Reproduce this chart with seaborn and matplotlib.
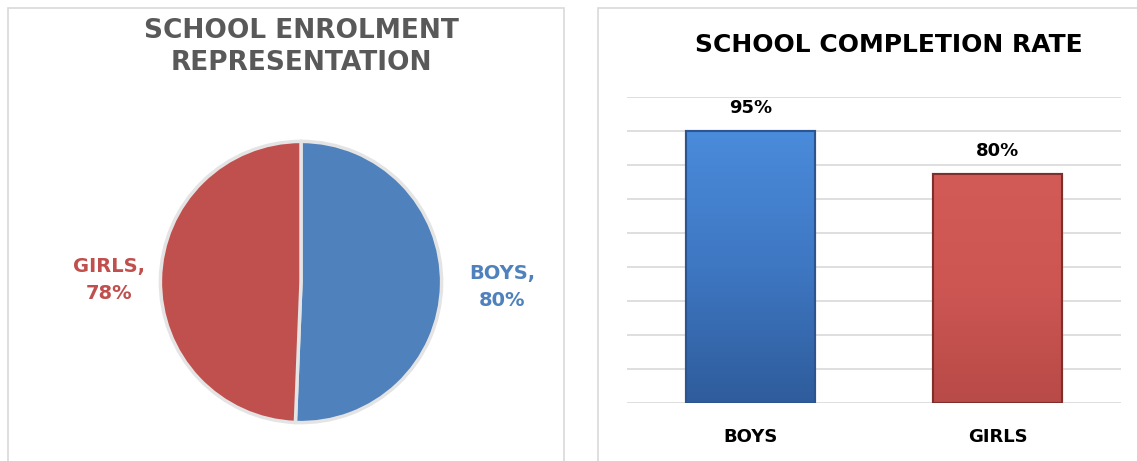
import matplotlib
matplotlib.use("Agg")
import matplotlib.pyplot as plt
import seaborn as sns
import pandas as pd
import numpy as np
from matplotlib.patches import Rectangle
from matplotlib.colors import LinearSegmentedColormap

# ---- data ----
enrol_labels = ["BOYS", "GIRLS"]
enrol_values = [80, 78]
completion_categories = ["BOYS", "GIRLS"]
completion_values = [95, 80]

BLUE = "#4F81BD"
RED = "#C0504D"
BAR_BLUE = "#3F7BC8"
BAR_RED = "#CD5552"

sns.set_theme(style="white")
plt.rcParams['font.family'] = ['DejaVu Sans']

W, H = 1137, 461
fig = plt.figure(figsize=(W / 100, H / 100), dpi=100)
fig.patch.set_facecolor("white")

def fx(px):
    return px / W

def fy(py):
    return 1 - py / H

# panel borders
fig.patches.append(Rectangle((fx(8), fy(470)), fx(564) - fx(8), fy(8) - fy(470),
                             transform=fig.transFigure, fill=False,
                             edgecolor="#D9D9D9", linewidth=1.2))
fig.patches.append(Rectangle((fx(598), fy(470)), fx(1150) - fx(598), fy(8) - fy(470),
                             transform=fig.transFigure, fill=False,
                             edgecolor="#D9D9D9", linewidth=1.2))

# ---- pie ----
cx, cy, r = 301, 282, 142
ax1 = fig.add_axes([fx(cx - r), fy(cy + r), (2 * r) / W, (2 * r) / H])
wedges, _ = ax1.pie(enrol_values, colors=[BLUE, RED], startangle=90, counterclock=False,
                    wedgeprops=dict(edgecolor="#E4E4E4", linewidth=2.5))
ax1.set_xlim(-1.01, 1.01)
ax1.set_ylim(-1.01, 1.01)
ax1.set_aspect("equal")
ax1.axis("off")

fig.text(fx(301), fy(47), "SCHOOL ENROLMENT\nREPRESENTATION", ha="center", va="center",
         fontsize=19, fontweight="bold", color="#595959", linespacing=1.25)
fig.text(fx(109), fy(280), f"{enrol_labels[1]},\n{enrol_values[1]}%", ha="center", va="center",
         fontsize=14, fontweight="bold", color=RED, linespacing=1.5)
fig.text(fx(502), fy(287), f"{enrol_labels[0]},\n{enrol_values[0]}%", ha="center", va="center",
         fontsize=14, fontweight="bold", color=BLUE, linespacing=1.5)

# ---- bar chart ----
ax2 = fig.add_axes([fx(627), fy(403), (1121 - 627) / W, (403 - 97) / H])
df = pd.DataFrame({"cat": completion_categories, "val": completion_values})
sns.barplot(data=df, x="cat", y="val", hue="cat", palette=[BAR_BLUE, BAR_RED],
            width=0.52, legend=False, ax=ax2, saturation=1)
step = completion_values[0] / 8
ax2.set_ylim(0, step * 9)
ax2.set_xlim(-0.5, 1.5)
ax2.set_yticks([step * i for i in range(10)])
ax2.yaxis.grid(True, color="#D9D9D9", linewidth=1.2)
ax2.set_axisbelow(True)
for s in ax2.spines.values():
    s.set_visible(False)
ax2.set_yticklabels([])
ax2.tick_params(axis="both", length=0)
ax2.tick_params(axis="x", pad=18)
for lbl in ax2.get_xticklabels():
    lbl.set_fontweight("bold")
    lbl.set_fontsize(13)
    lbl.set_color("black")
ax2.set_xlabel("")
ax2.set_ylabel("")

# bevel-like gradient fills clipped to each bar
grads = [["#2F5C9C", "#3E77C2", "#4A8BDB"], ["#B84A47", "#CD5653", "#D25B58"]]
edge_cols = ["#2B5590", "#7E2E2B"]
bars = list(ax2.patches)
for patch, g, ec in zip(bars, grads, edge_cols):
    x0, y0 = patch.get_x(), patch.get_y()
    w, h = patch.get_width(), patch.get_height()
    cmap = LinearSegmentedColormap.from_list("g", g)
    grad = np.linspace(0, 1, 256).reshape(-1, 1)
    im = ax2.imshow(grad, extent=(x0, x0 + w, y0, y0 + h), origin="lower",
                    cmap=cmap, aspect="auto", zorder=patch.get_zorder() + 0.1)
    im.set_clip_path(patch)
    patch.set_edgecolor(ec)
    patch.set_linewidth(1.5)
    patch.set_zorder(patch.get_zorder())
    edge = Rectangle((x0, y0), w, h, fill=False, edgecolor=ec, linewidth=1.5,
                     zorder=patch.get_zorder() + 0.2)
    ax2.add_patch(edge)
ax2.set_xlim(-0.5, 1.5)
ax2.set_ylim(0, step * 9)

for cont in ax2.containers:
    ax2.bar_label(cont, labels=[f"{v:.0f}%" for v in cont.datavalues], padding=10,
                  fontsize=13, fontweight="bold", color="black")

fig.text(fx(889), fy(45), "SCHOOL COMPLETION RATE", ha="center", va="center",
         fontsize=18, fontweight="bold", color="black")

fig.savefig("out.png", dpi=100, facecolor="white")
